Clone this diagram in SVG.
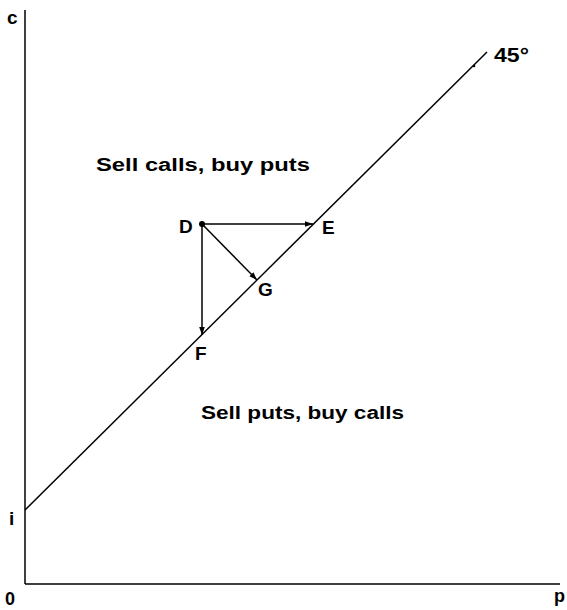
<svg xmlns="http://www.w3.org/2000/svg" width="567" height="610" viewBox="0 0 567 610">
<style>
.t{font-family:"Liberation Sans",Arial,sans-serif;font-weight:bold;fill:#000}
.ln{stroke:#000;stroke-width:1.5;fill:none}
</style>
<defs>
<marker id="ah" viewBox="0 0 10 10" refX="10" refY="5" markerWidth="8" markerHeight="8" markerUnits="userSpaceOnUse" orient="auto">
<path d="M0,1.5 L10,5 L0,8.5 Z" fill="#000"/>
</marker>
</defs>
<rect width="567" height="610" fill="#fff"/>
<g id="axes">
<line class="ln" x1="25" y1="10" x2="25" y2="584"/>
<line class="ln" x1="25" y1="584" x2="560" y2="584"/>
<text class="t" x="7" y="24" font-size="19">c</text>
<text class="t" x="9" y="525" font-size="19">i</text>
<text class="t" x="5" y="605" font-size="18">0</text>
<text class="t" x="554" y="602" font-size="18">p</text>
</g>
<g id="line45">
<line class="ln" x1="25" y1="510" x2="487" y2="52"/>
<circle cx="474" cy="66" r="1.3" fill="#000"/>
<text class="t" x="494" y="62" font-size="20" textLength="35" lengthAdjust="spacingAndGlyphs">45°</text>
</g>
<g id="regions">
<text class="t" x="96" y="171" font-size="18" textLength="214" lengthAdjust="spacingAndGlyphs">Sell calls, buy puts</text>
<text class="t" x="201" y="419" font-size="18" textLength="203" lengthAdjust="spacingAndGlyphs">Sell puts, buy calls</text>
</g>
<g id="nodeD">
<circle cx="202" cy="224" r="3" fill="#000"/>
<text class="t" x="179" y="233" font-size="19">D</text>
</g>
<g id="nodeE"><text class="t" x="322" y="234" font-size="19">E</text></g>
<g id="nodeG"><text class="t" x="258" y="296" font-size="19">G</text></g>
<g id="nodeF"><text class="t" x="195" y="360" font-size="19">F</text></g>
<g id="connectors">
<line class="ln" x1="202" y1="224" x2="313" y2="224" stroke-width="1.2" marker-end="url(#ah)"/>
<line class="ln" x1="202" y1="224" x2="202" y2="335" stroke-width="1.2" marker-end="url(#ah)"/>
<line class="ln" x1="202" y1="224" x2="257" y2="280" stroke-width="1.2" marker-end="url(#ah)"/>
</g>
</svg>
